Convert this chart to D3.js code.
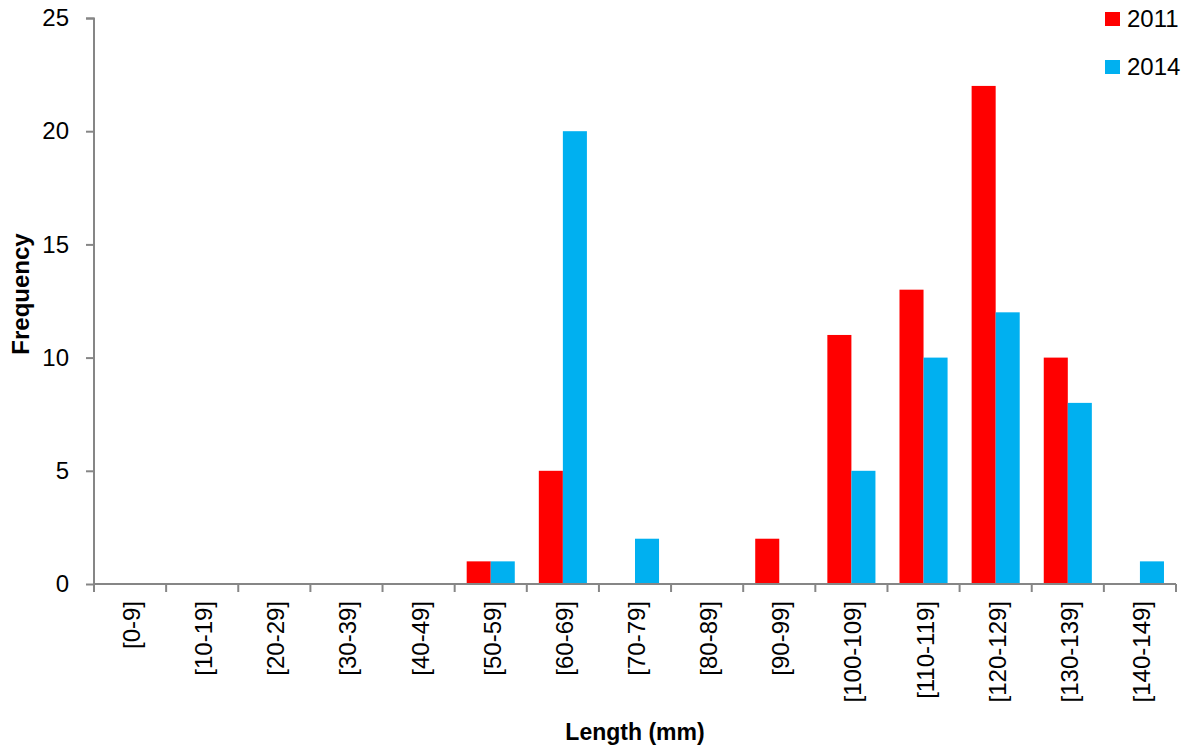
<!DOCTYPE html>
<html>
<head>
<meta charset="utf-8">
<script src="https://cdn.jsdelivr.net/npm/d3@7"></script>
<style>
  html, body { margin: 0; padding: 0; background: #fff; }
  svg { display: block; font-family: "Liberation Sans", Arial, sans-serif; }
</style>
</head>
<body>
<svg id="chart" width="1189" height="749"></svg>
<script>
// Length classes (mm)
const categories = ["[0-9]", "[10-19]", "[20-29]", "[30-39]", "[40-49]", "[50-59]", "[60-69]",
  "[70-79]", "[80-89]", "[90-99]", "[100-109]", "[110-119]", "[120-129]", "[130-139]", "[140-149]"];
const seriesNames = ["2011", "2014"];
const values2011 = [0, 0, 0, 0, 0, 1, 5, 0, 0, 2, 11, 13, 22, 10, 0];
const values2014 = [0, 0, 0, 0, 0, 1, 20, 2, 0, 0, 5, 10, 12, 8, 1];
const yTicks = [0, 5, 10, 15, 20, 25];
const colors = ["#FF0000", "#00B0F0"];

const svg = d3.select("#chart");
const margin = { left: 94, right: 13, top: 18, bottom: 165 };
const W = 1189, H = 749;
const plotW = W - margin.left - margin.right;
const plotH = H - margin.top - margin.bottom;
const axisColor = "#868686";
const font = "'Liberation Sans', Arial, sans-serif";

const x = d3.scaleBand().domain(categories).range([0, plotW]).paddingInner(0).paddingOuter(0);
const xs = d3.scaleBand().domain(seriesNames).range([0, x.bandwidth()]).paddingInner(0).paddingOuter(0.5);
const y = d3.scaleLinear().domain([0, 25]).range([plotH, 0]);

const g = svg.append("g").attr("transform", `translate(${margin.left},${margin.top})`);

// Bars
const series = [values2011, values2014];
series.forEach((vals, si) => {
  g.append("g").selectAll("rect")
    .data(vals.map((v, i) => ({ cat: categories[i], v })))
    .join("rect")
    .attr("x", d => x(d.cat) + xs(seriesNames[si]))
    .attr("width", xs.bandwidth())
    .attr("y", d => y(d.v))
    .attr("height", d => y(0) - y(d.v))
    .attr("fill", colors[si]);
});

// Y axis
const yAxis = g.append("g")
  .call(d3.axisLeft(y).tickValues(yTicks).tickSize(8).tickPadding(17));
yAxis.select(".domain").attr("stroke", axisColor).attr("stroke-width", 2)
  .attr("d", `M-8,0.5H0V${plotH}`);
yAxis.selectAll(".tick line").attr("stroke", axisColor).attr("stroke-width", 2);
yAxis.selectAll(".tick text").attr("font-size", 24).attr("fill", "#000")
  .attr("font-family", font);

// X axis with ticks at category boundaries
const xAxisG = g.append("g").attr("transform", `translate(0,${plotH})`);
xAxisG.append("line").attr("x1", 0).attr("x2", plotW).attr("y1", 0).attr("y2", 0)
  .attr("stroke", axisColor).attr("stroke-width", 2);
const bounds = categories.map(c => x(c)).concat([plotW]);
xAxisG.selectAll("line.tk").data(bounds).join("line").attr("class", "tk")
  .attr("x1", d => d).attr("x2", d => d).attr("y1", 0).attr("y2", 8)
  .attr("stroke", axisColor).attr("stroke-width", 2);
xAxisG.selectAll("text").data(categories).join("text")
  .attr("transform", d => `translate(${x(d) + x.bandwidth() / 2 + 10},17) rotate(-90)`)
  .attr("text-anchor", "end")
  .attr("font-size", 24)
  .attr("fill", "#000")
  .text(d => d);

// Axis titles
svg.append("text")
  .attr("transform", "translate(29,294) rotate(-90)")
  .attr("text-anchor", "middle").attr("font-size", 24).attr("font-weight", "bold")
  .text("Frequency");
svg.append("text")
  .attr("x", 635).attr("y", 740)
  .attr("text-anchor", "middle").attr("font-size", 23).attr("font-weight", "bold")
  .text("Length (mm)");

// Legend
const legend = svg.append("g").attr("transform", "translate(1105,12)");
seriesNames.forEach((name, i) => {
  const row = legend.append("g").attr("transform", `translate(0,${i * 48})`);
  row.append("rect").attr("width", 15).attr("height", 14).attr("fill", colors[i]);
  row.append("text").attr("x", 22).attr("y", 15).attr("font-size", 24).attr("fill", "#000").text(name);
});
</script>
</body>
</html>
